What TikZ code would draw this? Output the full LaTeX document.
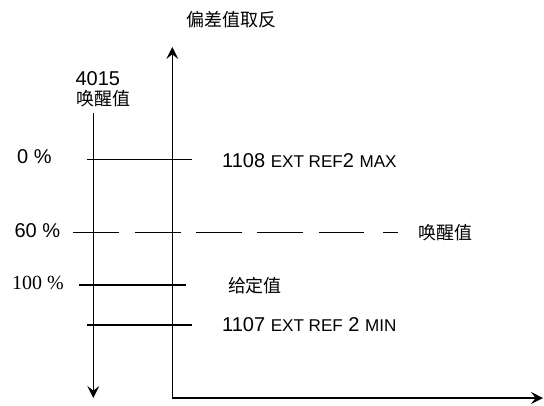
\documentclass[tikz,border=0pt]{standalone}
\usepackage{fontspec}
\setmainfont{Liberation Sans}
\newfontfamily\serifnum{Liberation Serif}
\newfontfamily\cjk{Noto Sans CJK SC}
\usetikzlibrary{arrows.meta}
\begin{document}
\begin{tikzpicture}[x=0.75pt,y=-0.75pt, line width=0.8pt,
  axis/.style={-{Stealth[length=9pt,width=9pt,inset=3.5pt]}},
  lbl/.style={inner sep=0pt, anchor=base west, font=\fontsize{15}{17}\selectfont},
  code/.style={inner sep=0pt, anchor=base west, font=\fontsize{15}{18}\selectfont},
  zh/.style={inner sep=0pt, font=\cjk\fontsize{13.5}{15}\selectfont},
  tick/.style={line width=0.8pt}]
\useasboundingbox (0,0) rectangle (544,405);
\newcommand{\smc}[1]{{\fontsize{12.8}{14}\selectfont #1}}
% axes
\coordinate (O) at (172.3,398);
\coordinate (ytop) at (172.3,47);
\coordinate (xend) at (543,398);
\draw[axis] (O) -- (ytop);
\draw[axis] (O) -- (xend);
% left downward axis
\coordinate (ltop) at (93.3,113);
\coordinate (lbot) at (93.3,398);
\draw[axis] (ltop) -- (lbot);
% ticks
\coordinate (t0a) at (86.7,159.3);   \coordinate (t0b) at (192.3,159.3);
\coordinate (t100a) at (79.3,285);   \coordinate (t100b) at (185.7,285);
\coordinate (tmina) at (86.7,325);   \coordinate (tminb) at (192.3,325);
\draw[tick] (t0a) -- (t0b);
\draw[tick] (t100a) -- (t100b);
\draw[tick] (tmina) -- (tminb);
% dashed 60 %
\coordinate (d1) at (73.3,232.3); \coordinate (d2) at (364,232.3);
\coordinate (d3) at (383,232.3); \coordinate (d4) at (398,232.3);
\draw[tick, dash pattern=on 34.5pt off 11.5pt] (d1) -- (d2);
\draw[tick] (d3) -- (d4);
% labels
\node[zh] (title) at (231,20) {偏差值取反};
\node[code] (n4015) at (75,85) {4015};
\node[zh] (wake1) at (103,99) {唤醒值};
\node[lbl] (p0) at (16.7,163.3) {0 \%};
\node[lbl] (p60) at (14,237.7) {60 \%};
\node[lbl, font=\serifnum\fontsize{15}{17}\selectfont] (p100) at (11.7,289) {100 \%};
\node[code] (max) at (221.7,167.7) {1108 \smc{EXT REF}2 \smc{MAX}};
\node[code] (min) at (221.7,331) {1107 \smc{EXT REF} 2 \smc{MIN}};
\node[zh] (wake2) at (445,232.5) {唤醒值};
\node[zh] (setv) at (255,285.5) {给定值};
\end{tikzpicture}
\end{document}
